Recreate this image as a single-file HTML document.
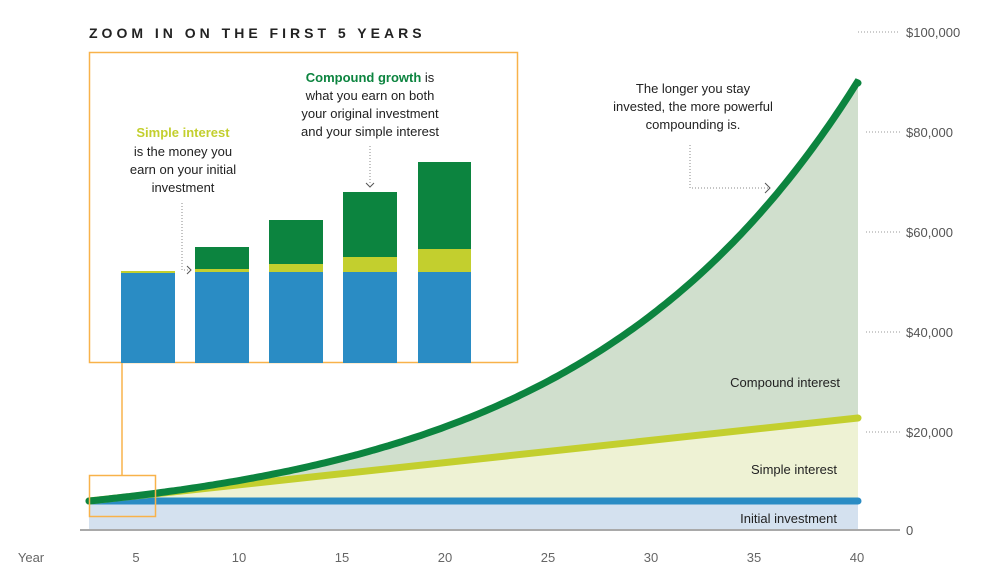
<!DOCTYPE html><html><head><style>body{margin:0;background:#fff}svg{display:block}text{font-family:"Liberation Sans",sans-serif}</style></head><body>
<svg width="1006" height="583" viewBox="0 0 1006 583" xmlns="http://www.w3.org/2000/svg">
<text x="89" y="38" font-size="14" font-weight="bold" letter-spacing="4" fill="#222">ZOOM IN ON THE FIRST 5 YEARS</text>
<rect x="89" y="501" width="769" height="29" fill="#d4e1ef"/>
<polygon points="89,501 858,418 858,501" fill="#eef2d4"/>
<path id="gfill" fill="#d0dfcd" d=""/>
<line x1="80" y1="530" x2="900" y2="530" stroke="#a9a9a9" stroke-width="2"/>
<line x1="89" y1="501" x2="858" y2="501" stroke="#2a8cc4" stroke-width="7" stroke-linecap="round"/>
<line x1="89" y1="501" x2="858" y2="418" stroke="#c3cf2e" stroke-width="7" stroke-linecap="round"/>
<path id="gline" fill="none" stroke="#0c843f" stroke-width="7" stroke-linecap="round" d=""/>
<g font-size="13" fill="#555">
<text x="906" y="37">$100,000</text><text x="906" y="137">$80,000</text><text x="906" y="237">$60,000</text><text x="906" y="337">$40,000</text><text x="906" y="437">$20,000</text><text x="906" y="535">0</text>
</g>
<g stroke="#999" stroke-dasharray="1,2"><line x1="858" y1="32" x2="900" y2="32"/><line x1="866" y1="132" x2="900" y2="132"/><line x1="866" y1="232" x2="900" y2="232"/><line x1="866" y1="332" x2="900" y2="332"/><line x1="866" y1="432" x2="900" y2="432"/></g>
<g font-size="13" fill="#666" text-anchor="middle">
<text x="31" y="562">Year</text><text x="136" y="562">5</text><text x="239" y="562">10</text><text x="342" y="562">15</text><text x="445" y="562">20</text><text x="548" y="562">25</text><text x="651" y="562">30</text><text x="754" y="562">35</text><text x="857" y="562">40</text>
</g>
<g font-size="13" fill="#222" text-anchor="end">
<text x="840" y="387">Compound interest</text><text x="837" y="474">Simple interest</text><text x="837" y="523">Initial investment</text>
</g>
<g font-size="13" fill="#222" text-anchor="middle">
<text x="693" y="93">The longer you stay</text><text x="693" y="111">invested, the more powerful</text><text x="693" y="129">compounding is.</text>
</g>
<path d="M690 145 V188 H768" fill="none" stroke="#888" stroke-dasharray="1,2"/>
<path d="M765 183 L770 188 L765 193" fill="none" stroke="#555"/>
<rect x="89.5" y="52.5" width="428" height="310" fill="none" stroke="#f8b24a" stroke-width="1.5"/>
<line x1="122" y1="363" x2="122" y2="475" stroke="#f8b24a" stroke-width="1.5"/>
<rect x="89.5" y="475.5" width="66" height="41" fill="none" stroke="#f8b24a" stroke-width="1.5"/>
<g>
<rect x="121" y="272" width="54" height="91" fill="#2a8cc4"/><rect x="121" y="271" width="54" height="2" fill="#c3cf2e"/>
<rect x="195" y="272" width="54" height="91" fill="#2a8cc4"/><rect x="195" y="269" width="54" height="3" fill="#c3cf2e"/><rect x="195" y="247" width="54" height="22" fill="#0c843f"/>
<rect x="269" y="272" width="54" height="91" fill="#2a8cc4"/><rect x="269" y="264" width="54" height="8" fill="#c3cf2e"/><rect x="269" y="220" width="54" height="44" fill="#0c843f"/>
<rect x="343" y="272" width="54" height="91" fill="#2a8cc4"/><rect x="343" y="257" width="54" height="15" fill="#c3cf2e"/><rect x="343" y="192" width="54" height="65" fill="#0c843f"/>
<rect x="418" y="272" width="53" height="91" fill="#2a8cc4"/><rect x="418" y="249" width="53" height="23" fill="#c3cf2e"/><rect x="418" y="162" width="53" height="87" fill="#0c843f"/>
</g>
<g font-size="13" fill="#222" text-anchor="middle">
<text x="183" y="137" font-weight="bold" fill="#c3cf2e">Simple interest</text>
<text x="183" y="156">is the money you</text><text x="183" y="174">earn on your initial</text><text x="183" y="192">investment</text>
<text x="370" y="82"><tspan font-weight="bold" fill="#0c843f">Compound growth</tspan> is</text>
<text x="370" y="100">what you earn on both</text><text x="370" y="118">your original investment</text><text x="370" y="136">and your simple interest</text>
</g>
<path d="M182 203 V270 H190" fill="none" stroke="#888" stroke-dasharray="1,2"/>
<path d="M187 266 L191 270 L187 274" fill="none" stroke="#555"/>
<line x1="370" y1="146" x2="370" y2="184" stroke="#888" stroke-dasharray="1,2"/>
<path d="M366 183 L370 187 L374 183" fill="none" stroke="#555"/>
<script>
var p=[],k=Math.log(89.8/5.8);
for(var x=89;x<=858;x+=4){var t=(x-89)/769;p.push(x+","+(530-29*Math.exp(k*t)).toFixed(1));}
p.push("858,83");
document.getElementById("gline").setAttribute("d","M"+p.join(" L"));
document.getElementById("gfill").setAttribute("d","M"+p.join(" L")+" L858,418 L89,501Z");
</script>
</svg>
</body></html>
